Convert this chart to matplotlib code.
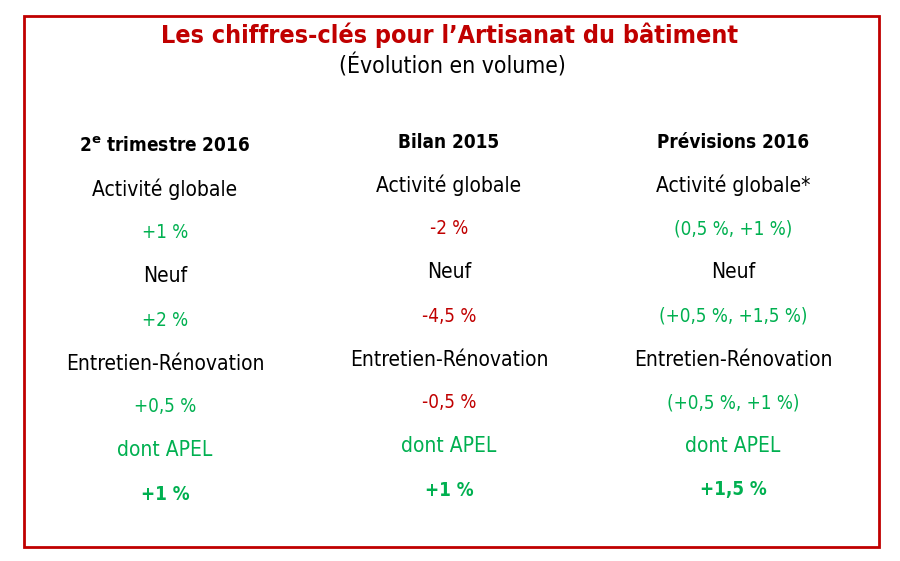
import matplotlib
matplotlib.use('Agg')
import matplotlib.pyplot as plt
from matplotlib.patches import Rectangle

# data
title = "Les chiffres-clés pour l\u2019Artisanat du bâtiment"
subtitle = "(Évolution en volume)"
headers = ["2$^{\\mathbf{e}}$ trimestre 2016", "Bilan 2015", "Prévisions 2016"]
labels = [
    ["Activité globale", "Neuf", "Entretien-Rénovation", "dont APEL"],
    ["Activité globale", "Neuf", "Entretien-Rénovation", "dont APEL"],
    ["Activité globale*", "Neuf", "Entretien-Rénovation", "dont APEL"],
]
values = [
    ["+1 %", "+2 %", "+0,5 %", "+1 %"],
    ["-2 %", "-4,5 %", "-0,5 %", "+1 %"],
    ["(0,5 %, +1 %)", "(+0,5 %, +1,5 %)", "(+0,5 %, +1 %)", "+1,5 %"],
]
value_sign = [
    ["pos", "pos", "pos", "pos"],
    ["neg", "neg", "neg", "pos"],
    ["pos", "pos", "pos", "pos"],
]

RED = '#c00000'
GREEN = '#00b050'

plt.rcParams['font.family'] = ['DejaVu Sans']
plt.rcParams['mathtext.fontset'] = 'dejavusans'

W, H = 900, 561
fig = plt.figure(figsize=(9, 5.61), dpi=100)
fig.patch.set_facecolor('white')

def px(x, y):
    return x / W, 1 - y / H

# frame
fig.patches.append(Rectangle(px(24, 547), 855 / W, 531 / H, transform=fig.transFigure,
                             fill=False, edgecolor=RED, linewidth=2))

fig.text(*px(450, 35), title, color=RED, fontsize=18, fontweight='bold',
         ha='center', va='center', fontstretch='condensed')
fig.text(*px(452, 66), subtitle, color='black', fontsize=16.5,
         ha='center', va='center', fontstretch='condensed')

col_x = [165, 449, 733]
col_dy = [4, 0, 0]
y0, step = 142, 43.5

for c in range(3):
    y = y0 + col_dy[c]
    fig.text(*px(col_x[c], y), headers[c], color='black', fontsize=13.6,
             fontweight='bold', ha='center', va='center', fontstretch='condensed')
    for r in range(4):
        y += step
        lab_color = GREEN if labels[c][r] == "dont APEL" else 'black'
        fig.text(*px(col_x[c], y), labels[c][r], color=lab_color, fontsize=15,
                 ha='center', va='center', fontstretch='condensed')
        y += step
        val_color = GREEN if value_sign[c][r] == 'pos' else RED
        w = 'bold' if r == 3 else 'normal'
        fig.text(*px(col_x[c], y), values[c][r], color=val_color, fontsize=13.5,
                 fontweight=w, ha='center', va='center', fontstretch='condensed')

fig.savefig('out.png', dpi=100, facecolor='white')
